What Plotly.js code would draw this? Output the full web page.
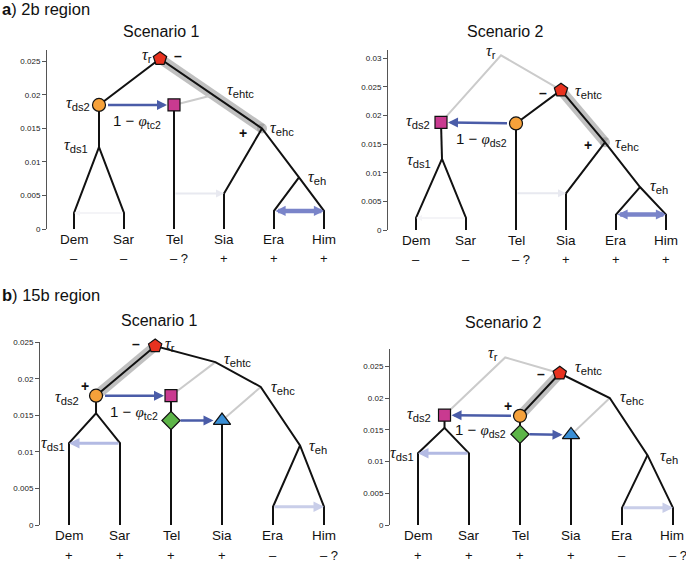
<!DOCTYPE html>
<html><head><meta charset="utf-8">
<script src="https://cdn.plot.ly/plotly-3.0.1.min.js"></script>
<style>html,body{margin:0;padding:0;background:#fff}#chart{width:686px;height:563px}</style>
</head><body><div id="chart"></div>
<script>
// ---------------- data ----------------
const tipNames = ["Dem","Sar","Tel","Sia","Era","Him"];
const tipX = [1,2,3,4,5,6];
const signsA = ["–","–","– ?","+","+","+"];
const signsB = ["+","+","+","+","–","– ?"];
const yTickVals = [0,0.005,0.01,0.015,0.02,0.025,0.03];
const yTickText = ["0","0.005","0.01","0.015","0.02","0.025","0.03"];

// a) 2b region, Scenario 1
const a1Nodes = ["r","ds2","ds1","tel","ehtc","ehc","eh"];
const a1X = [2.72,1.5,1.5,3,3.75,4.76,5.5];
const a1Y = [0.0254,0.0185,0.0122,0.0185,0.0199,0.0150,0.0077];
const a1Kinks = [0.0024,0.0024,null,0.0053,0.0027,0.0027];
// a) 2b region, Scenario 2
const a2Nodes = ["r","ds2","ds1","tel","ehtc","ehc","eh"];
const a2X = [2.7,1.5,1.52,3,3.9,4.78,5.48];
const a2Y = [0.0305,0.0188,0.0124,0.0186,0.0244,0.0153,0.0075];
const a2Kinks = [0.0021,0.0021,null,0.0064,0.0027,0.0027];
// b) 15b region, Scenario 1
const b1Nodes = ["r","ds2","split","tel","dia","sia","ehtc","ehc","eh"];
const b1X = [2.69,1.53,1.53,3,3,4,3.87,4.76,5.53];
const b1Y = [0.0245,0.0177,0.0153,0.0177,0.0143,0.0143,0.0223,0.0189,0.0109];
const b1Kinks = [0.0112,0.0112,null,null,0.0025,0.0025];
// b) 15b region, Scenario 2
const b2Nodes = ["r","ds2","split","tel","dia","sia","ehtc","ehc","eh"];
const b2X = [2.71,1.52,1.52,3,3,4,3.78,4.76,5.5];
const b2Y = [0.0264,0.0173,0.0153,0.0172,0.0143,0.0142,0.0239,0.0200,0.0110];
const b2Kinks = [0.0113,0.0113,null,null,0.0027,0.0027];

// topology
const a1Black = ["Dem-kDem-ds1-kSar-Sar","ds1-ds2-r-ehc-eh-kHim-Him","Tel-tel","ehc-kSia-Sia","eh-kEra-Era"];
const a1Gray = ["tel-ehtc"];
const a1High = ["r-ehc"];
const a1Marks = [["r","pent"],["ds2","circ"],["tel","sq"]];
const a1Arrows = [["ds2","tel","main"],["Tel|kSia","kSia","ghost"],["kSar","kDem","ghost2"],["kEra","kHim","double"]];

const a2Black = ["Dem-kDem-ds1-kSar-Sar","ds1-ds2","Tel-tel-ehtc-ehc-eh-kHim-Him","ehc-kSia-Sia","eh-kEra-Era"];
const a2Gray = ["ds2-r-ehtc"];
const a2High = ["ehtc-ehc"];
const a2Marks = [["ehtc","pent"],["tel","circ"],["ds2","sq"]];
const a2Arrows = [["tel","ds2","main"],["Tel|kSia","kSia","ghost"],["kSar","kDem","ghost2"],["kEra","kHim","double"]];

const b1Black = ["Dem-kDem-split-kSar-Sar","split-ds2-r-ehtc-ehc-eh-kHim-Him","eh-kEra-Era","Tel-tel","Sia-sia"];
const b1Gray = ["tel-ehtc","sia-ehc"];
const b1High = ["r-ds2"];
const b1Marks = [["r","pent"],["ds2","circ"],["tel","sq"],["dia","dia"],["sia","tri"]];
const b1Arrows = [["ds2","tel","main"],["dia","sia","main"],["kSar","kDem","faint"],["kEra","kHim","faint2"]];

const b2Black = ["Dem-kDem-split-kSar-Sar","split-ds2","Tel-tel-ehtc-ehc-eh-kHim-Him","eh-kEra-Era","Sia-sia"];
const b2Gray = ["ds2-r-ehtc","sia-ehc"];
const b2High = ["ehtc-tel"];
const b2Marks = [["ehtc","pent"],["tel","circ"],["ds2","sq"],["dia","dia"],["sia","tri"]];
const b2Arrows = [["tel","ds2","main"],["dia","sia","main"],["kSar","kDem","faint"],["kEra","kHim","faint2"]];

// labels: [kind, text/sub, node, xanchor, xshift, yshift]
const a1Labels = [["tau","r","r","right",-6,3],["tau","ds2","ds2","right",-7,1],["tau","ds1","ds1","right",-9,2],
  ["tau","ehtc","ehtc","left",13,5],["tau","ehc","ehc","left",6,0],["tau","eh","eh","left",7,0],
  ["phi","tc2","ds2|tel","center",0,-17],["sign","–","r","center",18,3],["sign","+","ehc","center",-19,-5]];
const a2Labels = [["tau","r","r","right",-3,4],["tau","ds2","ds2","right",-9,1],["tau","ds1","ds1","right",-9,-2],
  ["tau","ehtc","ehtc","left",12,-1],["tau","ehc","ehc","left",8,-1],["tau","eh","eh","left",8,1],
  ["phi","ds2","ds2|tel","center",3,-17],["sign","–","ehtc","center",-18,-3],["sign","+","ehc","center",-17,-3]];
const b1Labels = [["tau","r","r","left",8,2],["tau","ehtc","ehtc","left",7,3],["tau","ehc","ehc","left",8,-1],
  ["tau","eh","eh","left",7,-1],["tau","ds2","ds2","right",-15,-2],["tau","ds1","kDem","right",-2,0],
  ["phi","tc2","ds2|tel","center",0,-17],["sign","–","r","center",-19,2],["sign","+","ds2","center",-11,10]];
const b2Labels = [["tau","r","r","right",-5,4],["tau","ehtc","ehtc","left",13,6],["tau","ehc","ehc","left",8,1],
  ["tau","eh","eh","left",10,-1],["tau","ds2","ds2","right",-12,1],["tau","ds1","kDem","right",-2,0],
  ["phi","ds2","tel|ds2","center",-2,-15],["sign","–","ehtc","center",-19,-1],["sign","+","tel","center",-12,10]];

// ---------------- drawing ----------------
const SANS = "Liberation Sans, Arial, sans-serif";
const SERIF = "Liberation Serif, Times New Roman, serif";
const markStyle = {
  pent:{symbol:"pentagon",color:"#e8321f",size:14},
  circ:{symbol:"circle",color:"#f6a13a",size:13},
  sq:{symbol:"square",color:"#c93a90",size:12},
  dia:{symbol:"diamond",color:"#5db548",size:14},
  tri:{symbol:"triangle-up",color:"#3a8fd6",size:15}
};
const arrowStyle = {
  main:{color:"#4a5ca8",width:2.5,size:0.8},
  ghost:{color:"#e8e9f0",width:2,size:0.8},
  ghost2:{color:"#f4f4f7",width:2,size:0.6},
  double:{color:"#7a84c9",width:4.5,size:0.45,side:"end+start"},
  faint:{color:"#b3bae3",width:3,size:0.7},
  faint2:{color:"#c9cee9",width:3,size:0.7}
};

const panels = [
  {xa:"x",ya:"y",names:a1Nodes,X:a1X,Y:a1Y,kinks:a1Kinks,black:a1Black,gray:a1Gray,hl:a1High,marks:a1Marks,arrows:a1Arrows,labels:a1Labels,signs:signsA,
   px:{axis:47,x1:74,unit:50,right:340,y0:229,top:50,per005:33.6},signShift:-29},
  {xa:"x2",ya:"y2",names:a2Nodes,X:a2X,Y:a2Y,kinks:a2Kinks,black:a2Black,gray:a2Gray,hl:a2High,marks:a2Marks,arrows:a2Arrows,labels:a2Labels,signs:signsA,
   px:{axis:388,x1:416,unit:50,right:684,y0:230,top:50,per005:28.7},signShift:-29},
  {xa:"x3",ya:"y3",names:b1Nodes,X:b1X,Y:b1Y,kinks:b1Kinks,black:b1Black,gray:b1Gray,hl:b1High,marks:b1Marks,arrows:b1Arrows,labels:b1Labels,signs:signsB,
   px:{axis:40,x1:69,unit:51,right:340,y0:525,top:342,per005:36.6},signShift:-30},
  {xa:"x4",ya:"y4",names:b2Nodes,X:b2X,Y:b2Y,kinks:b2Kinks,black:b2Black,gray:b2Gray,hl:b2High,marks:b2Marks,arrows:b2Arrows,labels:b2Labels,signs:signsB,
   px:{axis:390,x1:418,unit:51,right:684,y0:525,top:349,per005:31.8},signShift:-30}
];

function pt(p, name){
  if (name.indexOf("|")>=0){ const [a,b]=name.split("|"); const A=pt(p,a),B=pt(p,b);
    return p._mid ? [(A[0]+B[0])/2,(A[1]+B[1])/2] : [A[0],B[1]]; }
  let i = tipNames.indexOf(name);
  if (i>=0) return [tipX[i],0];
  if (name[0]==="k"){ i = tipNames.indexOf(name.slice(1)); if (i>=0) return [tipX[i],p.kinks[i]]; }
  i = p.names.indexOf(name);
  return [p.X[i],p.Y[i]];
}
function chainXY(p, chains){
  const xs=[],ys=[];
  chains.forEach(c=>{ c.split("-").forEach(n=>{const P=pt(p,n); xs.push(P[0]); ys.push(P[1]);}); xs.push(null); ys.push(null); });
  return [xs,ys];
}
function tauText(sub){ return '<i>τ</i><sub><span style="font-family:Liberation Sans">'+sub+'</span></sub>'; }
function phiText(sub){ return '<span style="font-family:Liberation Sans">1 − </span><i>φ</i><sub><span style="font-family:Liberation Sans">'+sub+'</span></sub>'; }

const W=686,H=563;
const traces=[], annotations=[], layout={width:W,height:H,margin:{l:0,r:0,t:0,b:0},paper_bgcolor:"#fff",plot_bgcolor:"rgba(0,0,0,0)",showlegend:false,annotations};

panels.forEach((p,k)=>{
  const g=p.px;
  const xl = 1-(g.x1-g.axis)/g.unit, xr = xl+(g.right-g.axis)/g.unit;
  const ytop = (g.y0-g.top)/g.per005*0.005;
  const sfx = k===0?"":String(k+1);
  layout["xaxis"+sfx]={domain:[g.axis/W,g.right/W],range:[xl,xr],visible:false,fixedrange:true,anchor:p.ya};
  layout["yaxis"+sfx]={domain:[1-g.y0/H,1-g.top/H],range:[0,ytop*1.002],anchor:p.xa,showline:true,linecolor:"#555",linewidth:1,
    ticks:"outside",ticklen:4,tickwidth:1,tickcolor:"#555",tickmode:"array",tickvals:yTickVals,ticktext:yTickText,
    tickfont:{family:SANS,size:8,color:"#222"},showgrid:false,zeroline:false,fixedrange:true};
  let [hx,hy]=chainXY(p,p.hl);
  traces.push({type:"scatter",mode:"lines+markers",x:hx,y:hy,xaxis:p.xa,yaxis:p.ya,line:{color:"rgba(150,150,150,0.6)",width:10},
    marker:{size:10,color:"rgba(150,150,150,0.6)"},hoverinfo:"skip",cliponaxis:false});
  let [gx,gy]=chainXY(p,p.gray);
  traces.push({type:"scatter",mode:"lines",x:gx,y:gy,xaxis:p.xa,yaxis:p.ya,line:{color:"#cbcbcb",width:2},hoverinfo:"skip"});
  let [bx,by]=chainXY(p,p.black);
  traces.push({type:"scatter",mode:"lines",x:bx,y:by,xaxis:p.xa,yaxis:p.ya,line:{color:"#111",width:2},hoverinfo:"skip"});
  p.marks.forEach(m=>{ const P=pt(p,m[0]), s=markStyle[m[1]];
    traces.push({type:"scatter",mode:"markers",x:[P[0]],y:[P[1]],xaxis:p.xa,yaxis:p.ya,cliponaxis:false,hoverinfo:"skip",
      marker:{symbol:s.symbol,color:s.color,size:s.size,line:{color:"#111",width:1.2}}}); });
  const markSize = n=>{ const m=p.marks.find(q=>q[0]===n); return m?markStyle[m[1]].size/2+1:0; };
  p.arrows.forEach(a=>{ p._mid=false; const A=pt(p,a[0]),B=pt(p,a[1]),s=arrowStyle[a[2]];
    annotations.push({x:B[0],y:B[1],ax:A[0],ay:A[1],xref:p.xa,yref:p.ya,axref:p.xa,ayref:p.ya,text:"",showarrow:true,
      arrowhead:2,arrowsize:s.size,arrowwidth:s.width,arrowcolor:s.color,arrowside:s.side||"end",
      standoff:markSize(a[1]),startstandoff:markSize(a[0])}); });
  p.labels.forEach(l=>{ p._mid = l[0]==="phi"; const P=pt(p,l[2]); p._mid=false;
    let text, font;
    if (l[0]==="tau"){ text=tauText(l[1]); font={family:SERIF,size:16,color:"#111"}; }
    else if (l[0]==="phi"){ text=phiText(l[1]); font={family:SERIF,size:15,color:"#111"}; }
    else { text="<b>"+l[1]+"</b>"; font={family:SANS,size:14,color:"#111"}; }
    annotations.push({x:P[0],y:P[1],xref:p.xa,yref:p.ya,text,font,showarrow:false,xanchor:l[3],yanchor:"middle",xshift:l[4],yshift:l[5]}); });
  tipNames.forEach((t,i)=>{
    annotations.push({x:tipX[i],y:0,xref:p.xa,yref:p.ya,text:t,showarrow:false,yanchor:"top",yshift:-1,xshift:(k===3&&i===5)?-1:0,
      font:{family:SANS,size:13.5,color:"#111"}});
    const sg=p.signs[i], q=sg.length>1;
    annotations.push({x:tipX[i],y:0,xref:p.xa,yref:p.ya,text:sg,showarrow:false,yanchor:"middle",xanchor:q?"left":"center",xshift:q?-6:0,
      yshift:p.signShift,font:{family:SANS,size:13,color:"#111"}});
  });
});

// titles
const titles = [["<b>a</b>) 2b region",0,9,"left",16.5],["<b>b</b>) 15b region",0,295,"left",16.5],
  ["Scenario 1",161,31,"center",16],["Scenario 2",505,31,"center",16],["Scenario 1",159,320,"center",16],["Scenario 2",503,322,"center",16]];
titles.forEach(t=>annotations.push({x:t[1]/W,y:1-t[2]/H,xref:"paper",yref:"paper",text:t[0],showarrow:false,xanchor:t[3],yanchor:"middle",
  font:{family:SANS,size:t[4],color:"#111"}}));

Plotly.newPlot("chart",traces,layout,{displayModeBar:false,staticPlot:true});
</script></body></html>
